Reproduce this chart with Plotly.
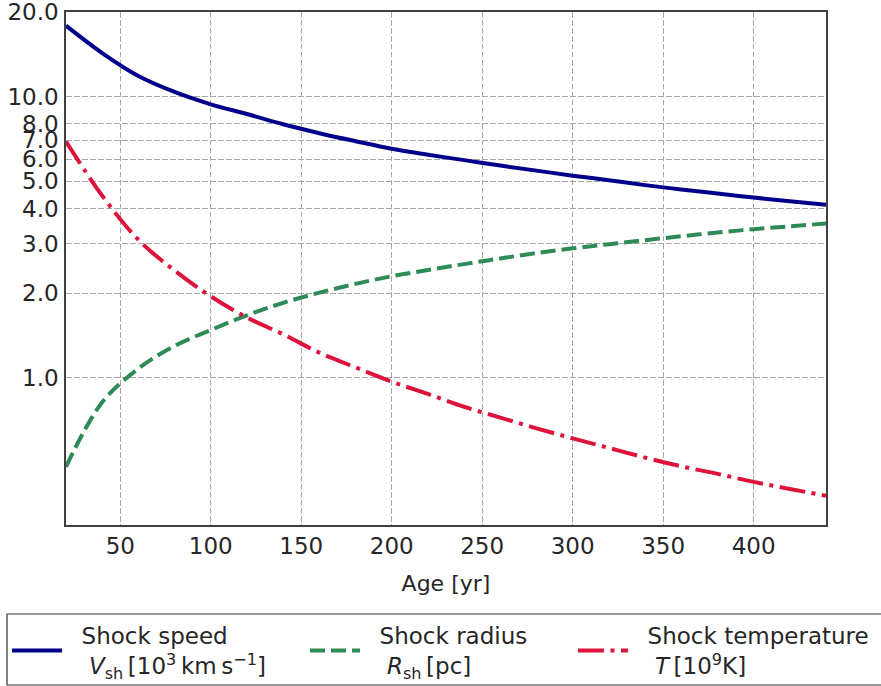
import plotly.graph_objects as go

# Data (age in years)
age = [20, 40, 60, 80, 100, 120, 140, 160, 180, 200, 220, 240, 260, 280, 300, 320, 340, 360, 380, 400, 420, 440]
shock_speed = [17.9, 14.3, 11.85, 10.4, 9.4, 8.68, 7.98, 7.42, 6.95, 6.53, 6.22, 5.95, 5.69, 5.46,
               5.24, 5.05, 4.85, 4.68, 4.53, 4.38, 4.25, 4.13]
shock_radius = [0.483, 0.82, 1.08, 1.30, 1.48, 1.67, 1.85, 2.01, 2.16, 2.30, 2.42, 2.54, 2.66, 2.78,
                2.89, 2.99, 3.09, 3.19, 3.29, 3.38, 3.46, 3.54]
shock_temp = [6.93, 4.45, 3.10, 2.41, 1.95, 1.64, 1.43, 1.23, 1.09, 0.97, 0.877, 0.79, 0.723, 0.662,
              0.61, 0.564, 0.521, 0.485, 0.456, 0.427, 0.403, 0.381]

y_tickvals = [1, 2, 3, 4, 5, 6, 7, 8, 10, 20]
y_ticktext = ["1.0", "2.0", "3.0", "4.0", "5.0", "6.0", "7.0", "8.0", "10.0", "20.0"]
x_tickvals = [50, 100, 150, 200, 250, 300, 350, 400]

NB = "\u00a0"
TS = "\u2009"
names = [
    NB * 2 + "Shock speed<br>" + NB * 3 + "<i>V</i><sub>sh</sub>" + TS + "[10<sup>3</sup>" + TS + "km"
    + TS + "s<sup>−1</sup>]",
    NB * 2 + "Shock radius<br>" + NB * 3 + "<i>R</i><sub>sh</sub>" + TS + "[pc]",
    NB * 2 + "Shock temperature<br>" + NB * 3 + "<i>T</i>" + TS + "[10<sup>9</sup>K]",
]

FONT = "DejaVu Sans"
TXT = "#262626"

W, H = 881, 686
L, T, R, B = 66, 12, 55, 161
PW, PH = W - L - R, H - T - B


def px_x(px):
    return (px - L) / PW


def px_y(py):
    return (H - B - py) / PH


fig = go.Figure()
fig.add_trace(go.Scatter(x=age, y=shock_speed, mode="lines", name=names[0], legend="legend",
                         line=dict(color="#00008B", width=4, shape="spline")))
fig.add_trace(go.Scatter(x=age, y=shock_radius, mode="lines", name=names[1], legend="legend2",
                         line=dict(color="#2E8B57", width=4, shape="spline", dash="15px,6px")))
fig.add_trace(go.Scatter(x=age, y=shock_temp, mode="lines", name=names[2], legend="legend3",
                         line=dict(color="#DC143C", width=4, shape="spline", dash="26px,6.5px,4px,6.5px")))

axis_common = dict(
    showline=True, mirror=True, linecolor="#404040", linewidth=1.5,
    showgrid=True, gridcolor="#a6a6a6", gridwidth=1, griddash="5.5px,2.5px",
    zeroline=False, tickcolor="rgba(0,0,0,0)", ticklabeloverflow="allow",
    tickfont=dict(family=FONT, size=23, color=TXT),
)

fig.update_xaxes(range=[20, 440], tickvals=x_tickvals, ticks="",
                 title=dict(text="Age [yr]", font=dict(family=FONT, size=22, color=TXT), standoff=17),
                 **axis_common)
fig.update_yaxes(type="log", range=[-0.5229, 1.3013], tickvals=y_tickvals, ticktext=y_ticktext,
                 ticks="outside", ticklen=1, **axis_common)

leg_common = dict(
    orientation="h", xanchor="left", yanchor="top", y=px_y(614),
    bgcolor="rgba(0,0,0,0)", borderwidth=0, visible=True,
    font=dict(family=FONT, size=23, color=TXT), itemwidth=50,
)

fig.update_layout(
    width=W, height=H,
    margin=dict(l=L, r=R, t=T, b=B, autoexpand=False),
    paper_bgcolor="white", plot_bgcolor="white",
    font=dict(family=FONT, size=22, color=TXT),
    showlegend=True,
    legend=dict(x=px_x(7), **leg_common),
    legend2=dict(x=px_x(305), **leg_common),
    legend3=dict(x=px_x(573), **leg_common),
    shapes=[dict(type="rect", xref="paper", yref="paper",
                 x0=px_x(7), x1=px_x(886), y0=px_y(685), y1=px_y(614),
                 line=dict(color="#333333", width=1.2), fillcolor="rgba(0,0,0,0)", layer="below")],
)

fig.write_html("out.html", config={"displayModeBar": False},
               post_script="document.body.style.margin='0px';")
